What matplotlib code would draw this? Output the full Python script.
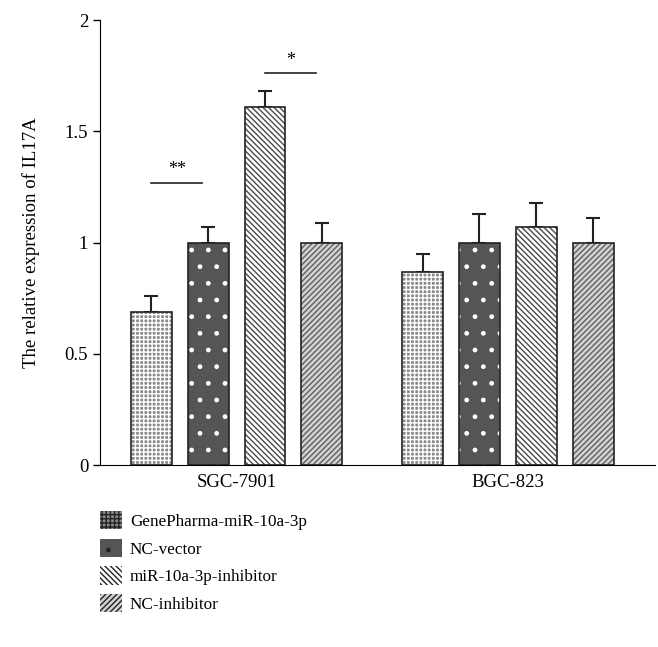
import matplotlib
matplotlib.use("Agg")
import matplotlib.pyplot as plt
import numpy as np
from matplotlib.patches import Patch

plt.rcParams.update({
    "font.family": ["Liberation Serif", "DejaVu Serif"],
    "font.size": 13.5,
    "hatch.linewidth": 1.0,
})

groups = ["SGC-7901", "BGC-823"]
series = ["GenePharma-miR-10a-3p", "NC-vector", "miR-10a-3p-inhibitor", "NC-inhibitor"]
values = [[0.69, 1.00, 1.61, 1.00],
          [0.87, 1.00, 1.07, 1.00]]
errors = [[0.07, 0.07, 0.07, 0.09],
          [0.08, 0.13, 0.11, 0.11]]

faces = ["#8a8a8a", "#555555", "white", "#d2d2d2"]
hatch_cols = ["white", "white", "#4a4a4a", "#606060"]
hatches = ["++++", ".", "\\\\\\\\\\\\", "//////"]

group_x = np.array([0.0, 4.77])
width = 0.72

fig = plt.figure(figsize=(6.58, 6.47), dpi=100)
ax = fig.add_axes([0.152, 0.281, 0.843, 0.688])

for j in range(len(series)):
    xs = group_x + j
    vals = [values[g][j] for g in range(len(groups))]
    errs = [errors[g][j] for g in range(len(groups))]
    ax.bar(xs, vals, width, color=faces[j], hatch=hatches[j],
           edgecolor=hatch_cols[j], linewidth=0, zorder=2)
    ax.bar(xs, vals, width, fill=False, edgecolor="#222222", linewidth=1.2, zorder=3)
    ax.errorbar(xs, vals, yerr=[np.zeros(len(errs)), errs], fmt="none",
                ecolor="#222222", elinewidth=1.5, capsize=5, capthick=1.5, zorder=1)

# significance marks
sig = [(0, 1, 1.27, "**"), (2, 3, 1.76, "*")]
for a, b, y, s in sig:
    ax.plot([group_x[0] + a, group_x[0] + b - 0.1], [y, y], color="#222222", lw=1.2)
    ax.text(group_x[0] + (a + b - 0.1) / 2, y + 0.02, s, ha="center", va="bottom", fontsize=13)

ax.set_xlim(-0.9, 8.85)
ax.set_ylim(0, 2)
ax.set_yticks([0, 0.5, 1, 1.5, 2])
ax.set_yticklabels(["0", "0.5", "1", "1.5", "2"])
ax.set_xticks(group_x + 1.5)
ax.set_xticklabels(groups)
ax.tick_params(axis="x", length=0, pad=6)
ax.tick_params(axis="y", length=5, width=1, direction="out")
ax.spines["top"].set_visible(False)
ax.spines["right"].set_visible(False)
ax.set_ylabel("The relative expression of IL17A", labelpad=18)

handles = [Patch(facecolor=faces[j], edgecolor=hatch_cols[j], hatch=hatches[j], linewidth=0)
           for j in range(len(series))]
leg = fig.legend(handles, series, loc="upper left", bbox_to_anchor=(0.152, 0.21),
                 frameon=False, fontsize=12.3, handlelength=1.3, handleheight=1.25,
                 handletextpad=0.45, labelspacing=0.52, borderaxespad=0, borderpad=0)
for p in leg.get_patches():
    p.set_edgecolor("#222222")

fig.savefig("out.png", dpi=100)
